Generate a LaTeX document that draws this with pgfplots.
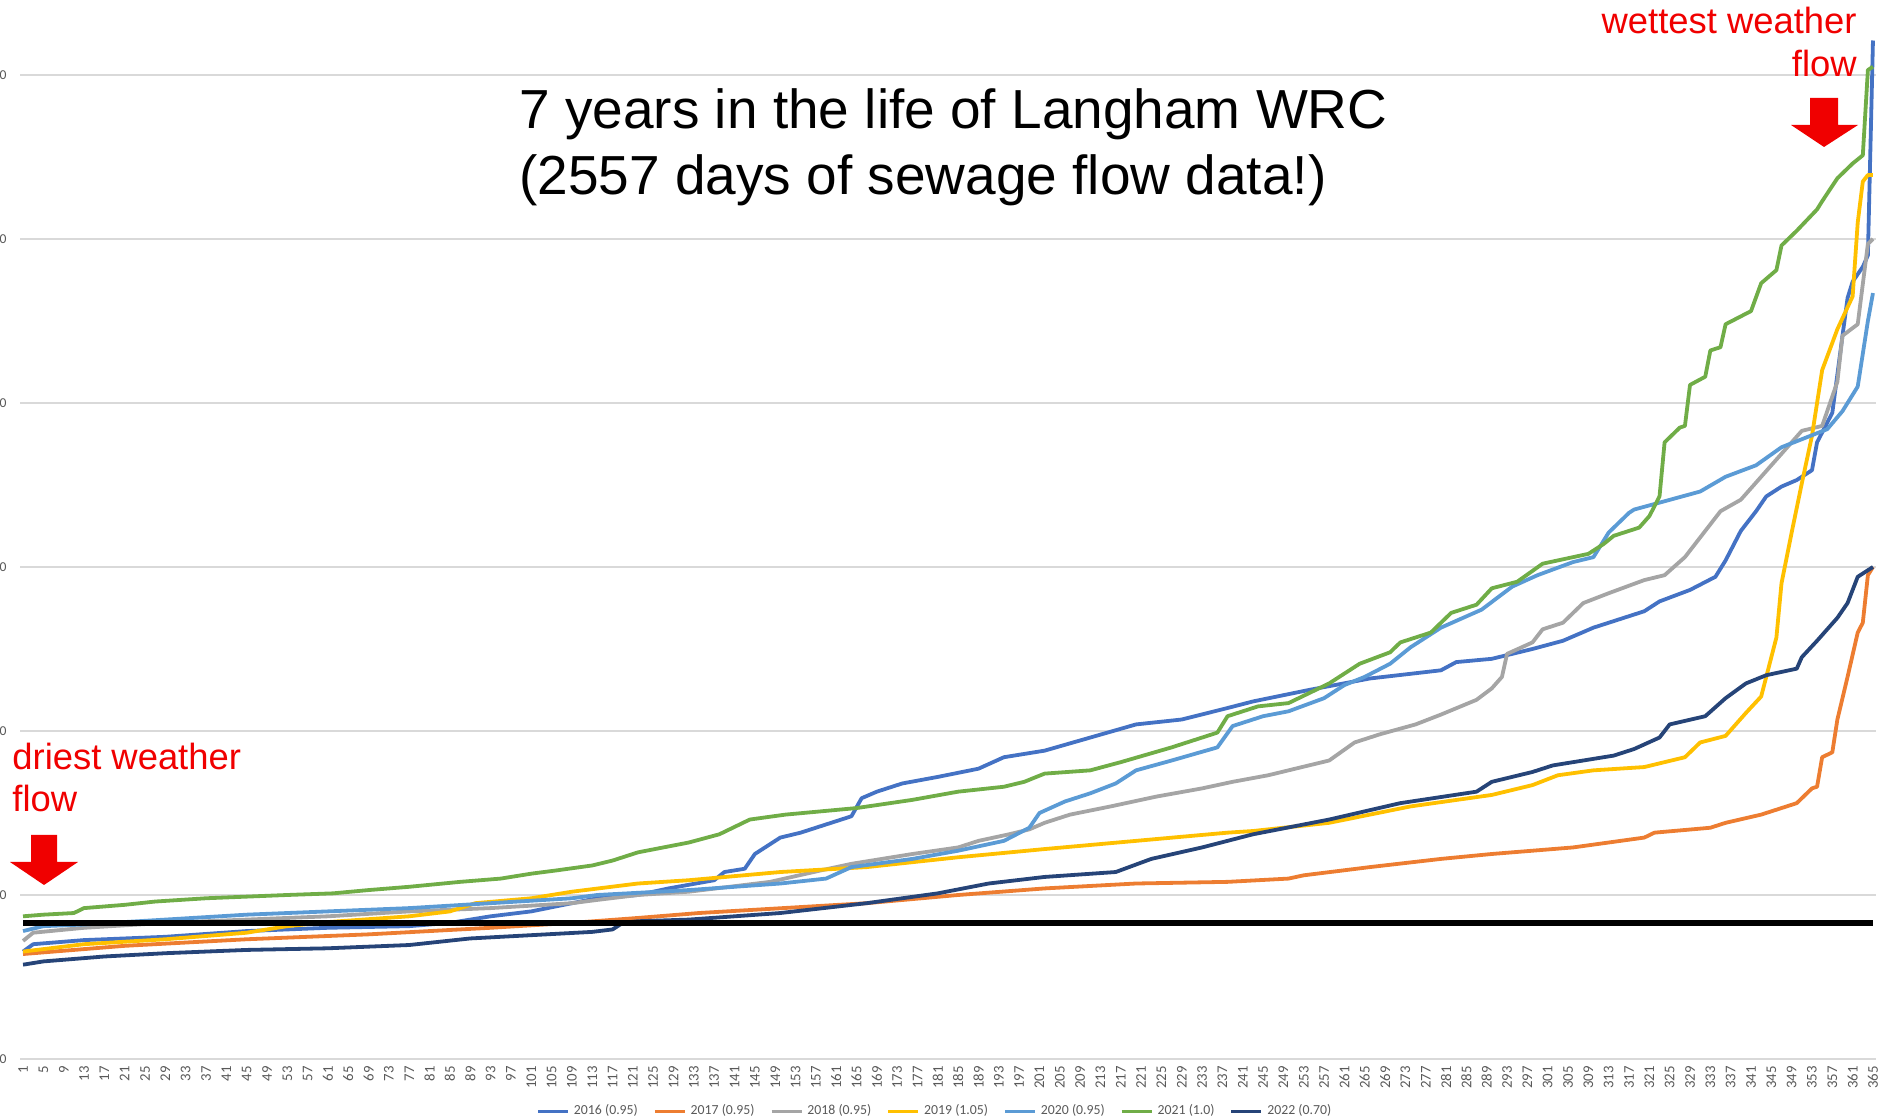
\documentclass[border=0pt]{standalone}
\usepackage{pgfplots}
\pgfplotsset{compat=1.18}
\usepackage{fontspec}
\setmainfont{Carlito}
\newfontfamily\arialfont{Liberation Sans}
\definecolor{c2016}{HTML}{4472C4}
\definecolor{c2017}{HTML}{ED7D31}
\definecolor{c2018}{HTML}{A5A5A5}
\definecolor{c2019}{HTML}{FFC000}
\definecolor{c2020}{HTML}{5B9BD5}
\definecolor{c2021}{HTML}{70AD47}
\definecolor{c2022}{HTML}{264478}
\definecolor{gridgray}{HTML}{D9D9D9}
\definecolor{tickgray}{HTML}{595959}
\definecolor{annred}{HTML}{F00000}
\begin{document}
\begin{tikzpicture}
\begin{axis}[
  scale only axis, width=927.5pt, height=529.5pt,
  xmin=0.5, xmax=365.5, ymin=0, ymax=6.457,
  axis line style={draw=none},
  major tick length=0pt,
  ymajorgrids, grid style={color=gridgray, line width=0.7pt},
  xtick={1,5,...,365},
  ytick={0,1,2,3,4,5,6},
  yticklabel={0},
  /pgf/number format/assume math mode=true,
  xticklabel style={rotate=90, anchor=east, inner xsep=3.5pt, inner ysep=0pt, font=\fontsize{7.4}{8}\selectfont, text=tickgray},
  yticklabel style={anchor=east, inner sep=0pt, xshift=-6.75pt, font=\fontsize{6.8}{7}\selectfont, text=tickgray},
  legend columns=7,
  legend style={at={(axis description cs:0.4934,-0.0495)}, anchor=center, draw=none, fill=none,
    font=\fontsize{6.9}{8}\selectfont, text=tickgray,
    /tikz/every even column/.append style={column sep=5.5pt}},
  legend image code/.code={\draw[#1] (0pt,0pt) -- (15pt,0pt);},
  every axis plot/.append style={line width=1.9pt, line join=round, mark=none},
]
\addplot[c2016] coordinates {(1,0.655) (3,0.70) (13,0.725) (29,0.745) (45,0.78) (61,0.80) (77,0.81) (85,0.83) (93,0.87) (101,0.90) (109,0.95) (114,0.98) (122,1.00) (128,1.04) (137,1.09) (139,1.14) (143,1.16) (145,1.25) (150,1.35) (154,1.38) (160,1.44) (164,1.48) (166,1.59) (169,1.63) (174,1.68) (181,1.72) (189,1.77) (194,1.84) (202,1.88) (211,1.96) (220,2.04) (229,2.07) (238,2.14) (243,2.18) (254,2.25) (266,2.32) (280,2.37) (283,2.42) (290,2.44) (298,2.50) (304,2.55) (310,2.63) (315,2.68) (320,2.73) (323,2.79) (329,2.86) (334,2.94) (336,3.04) (339,3.22) (342,3.34) (344,3.43) (347,3.49) (350,3.53) (353,3.59) (354,3.76) (357,3.94) (359,4.41) (360,4.64) (361,4.74) (363,4.83) (364,4.90) (365,6.21)};
\addlegendentry{2016 (0.95)}
\addplot[c2017] coordinates {(1,0.64) (21,0.69) (45,0.73) (69,0.76) (93,0.80) (109,0.83) (122,0.86) (134,0.89) (167,0.95) (185,1.00) (202,1.04) (220,1.07) (238,1.08) (250,1.10) (253,1.12) (266,1.17) (280,1.22) (290,1.25) (306,1.29) (320,1.35) (322,1.38) (333,1.41) (336,1.44) (343,1.49) (350,1.56) (353,1.65) (354,1.66) (355,1.84) (357,1.87) (358,2.07) (360,2.33) (362,2.60) (363,2.66) (364,2.95) (365,3.0)};
\addlegendentry{2017 (0.95)}
\addplot[c2018] coordinates {(1,0.72) (3,0.77) (13,0.80) (29,0.83) (45,0.85) (61,0.87) (77,0.90) (93,0.92) (109,0.95) (114,0.97) (122,1.00) (132,1.02) (148,1.08) (158,1.15) (164,1.19) (176,1.25) (185,1.29) (189,1.33) (195,1.37) (199,1.40) (202,1.44) (207,1.49) (215,1.54) (224,1.60) (233,1.65) (239,1.69) (246,1.73) (250,1.76) (258,1.82) (263,1.93) (268,1.98) (275,2.04) (280,2.10) (287,2.19) (290,2.26) (292,2.33) (293,2.47) (298,2.54) (300,2.62) (304,2.66) (308,2.78) (313,2.84) (320,2.92) (324,2.95) (328,3.06) (331,3.18) (335,3.34) (339,3.41) (343,3.55) (347,3.69) (351,3.83) (355,3.86) (358,4.13) (359,4.41) (362,4.48) (364,4.97) (365,5.0)};
\addlegendentry{2018 (0.95)}
\addplot[c2019] coordinates {(1,0.655) (13,0.70) (29,0.73) (45,0.77) (53,0.81) (61,0.835) (77,0.87) (85,0.90) (90,0.95) (101,0.98) (109,1.02) (122,1.07) (132,1.09) (150,1.14) (167,1.17) (185,1.23) (202,1.28) (220,1.33) (238,1.38) (243,1.39) (258,1.44) (274,1.54) (290,1.61) (298,1.67) (303,1.73) (310,1.76) (320,1.78) (328,1.84) (331,1.93) (336,1.97) (340,2.11) (343,2.21) (344,2.33) (346,2.57) (347,2.90) (349,3.21) (351,3.51) (353,3.80) (355,4.20) (358,4.45) (361,4.65) (362,5.10) (363,5.35) (364,5.39) (365,5.39)};
\addlegendentry{2019 (1.05)}
\addplot[c2020] coordinates {(1,0.78) (5,0.81) (13,0.82) (29,0.85) (45,0.88) (61,0.90) (77,0.92) (93,0.95) (109,0.98) (114,1.00) (132,1.03) (150,1.07) (159,1.10) (164,1.17) (176,1.22) (185,1.27) (194,1.33) (199,1.41) (201,1.50) (206,1.57) (211,1.62) (216,1.68) (220,1.76) (227,1.82) (236,1.90) (239,2.03) (245,2.09) (250,2.12) (257,2.20) (261,2.28) (265,2.33) (270,2.41) (274,2.51) (280,2.63) (288,2.74) (294,2.88) (299,2.95) (306,3.03) (310,3.06) (313,3.21) (317,3.33) (318,3.35) (331,3.46) (336,3.55) (342,3.62) (347,3.73) (356,3.84) (359,3.95) (362,4.10) (364,4.50) (365,4.67)};
\addlegendentry{2020 (0.95)}
\addplot[c2021] coordinates {(1,0.87) (5,0.88) (11,0.89) (13,0.92) (21,0.94) (27,0.96) (37,0.98) (53,1.00) (62,1.01) (69,1.03) (77,1.05) (87,1.08) (95,1.10) (101,1.13) (106,1.15) (113,1.18) (117,1.21) (122,1.26) (132,1.32) (138,1.37) (144,1.46) (151,1.49) (165,1.53) (176,1.58) (185,1.63) (194,1.66) (198,1.69) (202,1.74) (211,1.76) (217,1.81) (227,1.90) (236,1.99) (238,2.09) (244,2.15) (250,2.17) (258,2.29) (264,2.41) (270,2.48) (272,2.54) (278,2.60) (282,2.72) (287,2.77) (290,2.87) (295,2.91) (300,3.02) (309,3.08) (312,3.14) (314,3.19) (319,3.24) (321,3.31) (323,3.43) (324,3.76) (327,3.85) (328,3.86) (329,4.11) (332,4.16) (333,4.32) (335,4.34) (336,4.48) (341,4.56) (343,4.73) (346,4.81) (347,4.96) (350,5.05) (354,5.18) (355,5.23) (358,5.37) (361,5.46) (363,5.51) (364,6.03) (365,6.05)};
\addlegendentry{2021 (1.0)}
\addplot[c2022] coordinates {(1,0.575) (5,0.595) (17,0.625) (29,0.645) (45,0.665) (61,0.675) (77,0.695) (89,0.735) (101,0.755) (113,0.775) (117,0.79) (119,0.83) (122,0.84) (132,0.85) (150,0.89) (167,0.95) (181,1.01) (191,1.07) (202,1.11) (216,1.14) (223,1.22) (233,1.29) (243,1.37) (258,1.46) (272,1.56) (287,1.63) (290,1.69) (298,1.75) (302,1.79) (314,1.85) (318,1.89) (323,1.96) (325,2.04) (332,2.09) (336,2.20) (340,2.29) (344,2.34) (350,2.38) (351,2.45) (354,2.55) (358,2.69) (360,2.78) (362,2.94) (364,2.98) (365,3.0)};
\addlegendentry{2022 (0.70)}
\addplot[black, line width=3pt, forget plot] coordinates {(1,0.83) (365,0.83)};
\end{axis}
% annotations (pt coordinates relative to the axis origin)
\node[anchor=base west, inner sep=0pt, font=\arialfont\fontsize{27.5}{33}\selectfont] at (249.25pt,465pt) {7 years in the life of Langham WRC};
\node[anchor=base west, inner sep=0pt, font=\arialfont\fontsize{27.5}{33}\selectfont] at (249.25pt,432pt) {(2557 days of sewage flow data!)};
\node[anchor=base west, inner sep=0pt, text=annred, font=\arialfont\fontsize{18.2}{21}\selectfont] at (-4.25pt,144.5pt) {driest weather};
\node[anchor=base west, inner sep=0pt, text=annred, font=\arialfont\fontsize{18.2}{21}\selectfont] at (-4.25pt,123.5pt) {flow};
\node[anchor=base east, inner sep=0pt, text=annred, font=\arialfont\fontsize{18.2}{21}\selectfont] at (918.25pt,512.75pt) {wettest weather};
\node[anchor=base east, inner sep=0pt, text=annred, font=\arialfont\fontsize{18.2}{21}\selectfont] at (918.25pt,491pt) {flow};
\fill[annred] (5.25pt,112pt) -- (18.25pt,112pt) -- (18.25pt,98.5pt) -- (28.75pt,98.5pt) -- (11.75pt,87pt) -- (-5.25pt,98.5pt) -- (5.25pt,98.5pt) -- cycle;
\fill[annred] (894.75pt,480.5pt) -- (908.75pt,480.5pt) -- (908.75pt,467pt) -- (918.75pt,467pt) -- (901.75pt,456pt) -- (885.25pt,467pt) -- (894.75pt,467pt) -- cycle;
\pgfresetboundingbox
\path (-10.25pt,-29.5pt) rectangle (929.25pt,529.5pt);
\end{tikzpicture}
\end{document}
